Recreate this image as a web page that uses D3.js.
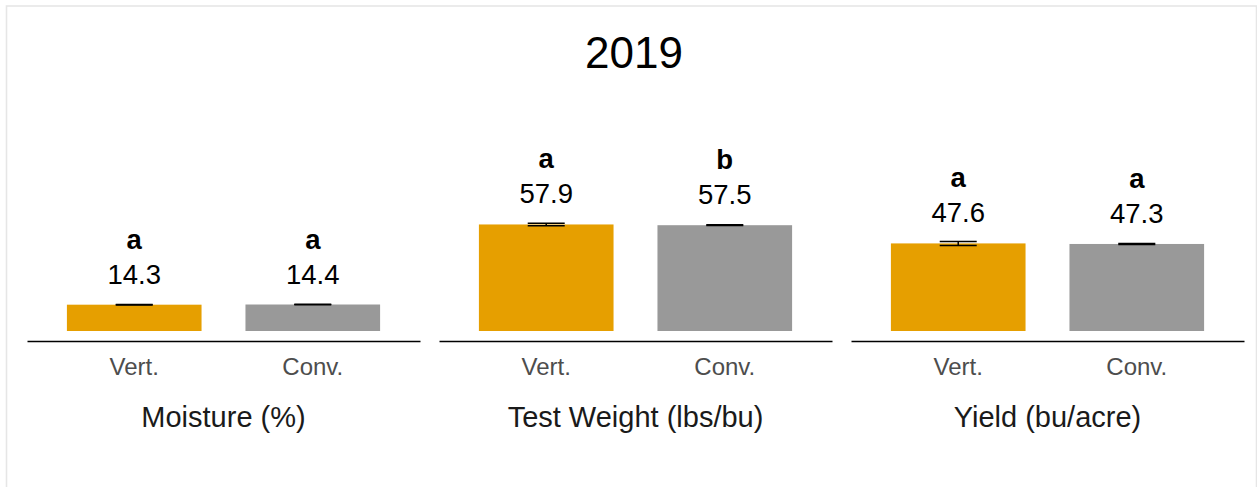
<!DOCTYPE html>
<html lang="en">
    <head>
        <meta charset="utf-8">
        <title>2019</title>
        <script type="text/javascript" src="https://cdn.jsdelivr.net/npm/d3@7"></script>
        <style>
            body { margin: 0; background: #ffffff; }
            text { font-family: "Liberation Sans", Arial, sans-serif; }
        </style>
    </head>

    <body>
        <script type="text/javascript">

            // data
            var categories = ["Moisture (%)", "Test Weight (lbs/bu)", "Yield (bu/acre)"];
            var treatments = ["Vert.", "Conv."];
            var vertValues = [14.3, 57.9, 47.6];
            var convValues = [14.4, 57.5, 47.3];
            var vertSE = [0.15, 0.7, 1.1];
            var convSE = [0.15, 0.2, 0.3];
            var vertLetters = ["a", "a", "a"];
            var convLetters = ["a", "b", "a"];
            var colors = ["#E69F00", "#999999"];

            var w = 1257, h = 487;
            var svg = d3.select("body").append("svg").attr("width", w).attr("height", h);

            // light frame round the plot
            svg.append("rect")
                .attr("x", 6.5).attr("y", 6)
                .attr("width", 1250).attr("height", 520)
                .attr("fill", "none")
                .attr("stroke", "#e6e6e6")
                .attr("stroke-width", 1.6);

            svg.append("text")
                .attr("x", 634).attr("y", 68)
                .attr("text-anchor", "middle")
                .attr("font-size", 44)
                .attr("fill", "#000")
                .text("2019");

            var panelX = d3.scaleBand().domain(categories).range([27, 1244]).paddingInner(19 / 412);
            var x = d3.scaleBand().domain(treatments).range([0, panelX.bandwidth()])
                        .paddingInner(0.246).paddingOuter(0.2235);
            var y = d3.scaleLinear().domain([0, 60]).range([331, 220.6]);
            var axisY = 341;

            var rows = categories.map(function(c, i) {
                return {
                    cat: c,
                    bars: [
                        {t: treatments[0], v: vertValues[i], se: vertSE[i], l: vertLetters[i], c: colors[0]},
                        {t: treatments[1], v: convValues[i], se: convSE[i], l: convLetters[i], c: colors[1]}
                    ]
                };
            });

            var panels = svg.selectAll("g.panel")
                .data(rows)
                .enter()
                .append("g")
                .attr("class", "panel")
                .attr("transform", function(d) { return "translate(" + panelX(d.cat) + ",0)"; });

            panels.selectAll("rect.bar")
                .data(function(d) { return d.bars; })
                .enter()
                .append("rect")
                .attr("class", "bar")
                .attr("x", function(d) { return x(d.t); })
                .attr("y", function(d) { return y(d.v); })
                .attr("width", x.bandwidth())
                .attr("height", function(d) { return y(0) - y(d.v); })
                .attr("fill", function(d) { return d.c; });

            // error bars
            var eb = panels.selectAll("g.err")
                .data(function(d) { return d.bars; })
                .enter()
                .append("g")
                .attr("class", "err")
                .attr("stroke", "#000")
                .attr("stroke-width", 1.5);
            var cap = 18.5;
            eb.append("line")
                .attr("x1", function(d) { return x(d.t) + x.bandwidth() / 2; })
                .attr("x2", function(d) { return x(d.t) + x.bandwidth() / 2; })
                .attr("y1", function(d) { return y(d.v - d.se); })
                .attr("y2", function(d) { return y(d.v + d.se); });
            [-1, 1].forEach(function(s) {
                eb.append("line")
                    .attr("x1", function(d) { return x(d.t) + x.bandwidth() / 2 - cap; })
                    .attr("x2", function(d) { return x(d.t) + x.bandwidth() / 2 + cap; })
                    .attr("y1", function(d) { return y(d.v + s * d.se); })
                    .attr("y2", function(d) { return y(d.v + s * d.se); });
            });

            // value and letter labels
            panels.selectAll("text.val")
                .data(function(d) { return d.bars; })
                .enter()
                .append("text")
                .attr("class", "val")
                .attr("x", function(d) { return x(d.t) + x.bandwidth() / 2; })
                .attr("y", function(d) { return y(d.v) - 21; })
                .attr("text-anchor", "middle")
                .attr("font-size", 27.5)
                .attr("fill", "#000")
                .text(function(d) { return d3.format(".1f")(d.v); });

            panels.selectAll("text.letter")
                .data(function(d) { return d.bars; })
                .enter()
                .append("text")
                .attr("class", "letter")
                .attr("x", function(d) { return x(d.t) + x.bandwidth() / 2; })
                .attr("y", function(d) { return y(d.v) - 56; })
                .attr("text-anchor", "middle")
                .attr("font-size", 27.5)
                .attr("font-weight", "bold")
                .attr("fill", "#000")
                .text(function(d) { return d.l; });

            // x axis per panel
            panels.append("g")
                .attr("transform", "translate(0," + axisY + ")")
                .each(function() {
                    d3.select(this).call(d3.axisBottom(x).tickSize(0).tickPadding(17));
                })
                .call(function(g) {
                    g.select(".domain").attr("stroke", "#000").attr("stroke-width", 1.6);
                    g.selectAll(".tick text")
                        .attr("font-size", 24)
                        .attr("font-family", "Liberation Sans, Arial, sans-serif")
                        .attr("fill", "#4d4d4d");
                });

            panels.append("text")
                .attr("x", panelX.bandwidth() / 2)
                .attr("y", 427)
                .attr("text-anchor", "middle")
                .attr("font-size", 29)
                .attr("fill", "#1a1a1a")
                .text(function(d) { return d.cat; });

        </script>
    </body>
</html>
